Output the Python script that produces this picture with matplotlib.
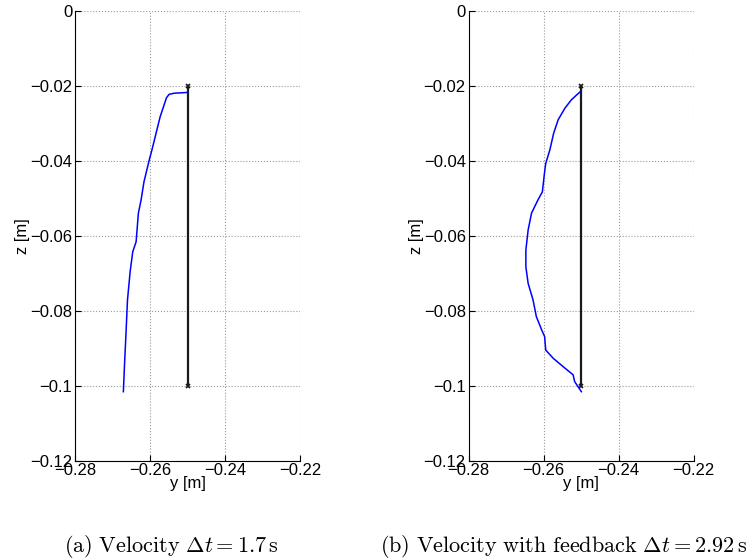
import numpy as np
import matplotlib.pyplot as plt

plt.rcParams['font.family'] = ['Liberation Sans', 'DejaVu Sans']
plt.rcParams['mathtext.fontset'] = 'cm'

# Reference (straight) path
ref_y = [-0.25, -0.25]
ref_z = [-0.02, -0.10]

# (a) Velocity
a_y = [-0.2500, -0.2535, -0.2549, -0.2556, -0.2573, -0.2595, -0.2602,
       -0.2616, -0.2624, -0.2631, -0.2637, -0.2646, -0.2653, -0.2655,
       -0.2660, -0.2664, -0.2668, -0.2671]
a_z = [-0.0218, -0.0220, -0.0223, -0.0232, -0.0283, -0.0372, -0.0398,
       -0.0456, -0.0506, -0.0540, -0.0616, -0.0643, -0.0696, -0.0718,
       -0.0771, -0.0860, -0.0945, -0.1016]

# (b) Velocity with feedback
b_y = [-0.2502, -0.2512, -0.2526, -0.2543, -0.2561, -0.2573, -0.2583,
       -0.2594, -0.2598, -0.2603, -0.2615, -0.2632, -0.2641, -0.2647,
       -0.2647, -0.2641, -0.2628, -0.2619, -0.2605, -0.2597, -0.2594,
       -0.2574, -0.2543, -0.2521, -0.2517, -0.2499]
b_z = [-0.0216, -0.0225, -0.0238, -0.0260, -0.0291, -0.0327, -0.0371,
       -0.0407, -0.0438, -0.0483, -0.0505, -0.0540, -0.0585, -0.0638,
       -0.0683, -0.0727, -0.0771, -0.0816, -0.0851, -0.0869, -0.0905,
       -0.0927, -0.0953, -0.0971, -0.0989, -0.1016]

xticks = [-0.28, -0.26, -0.24, -0.22]
yticks = [0, -0.02, -0.04, -0.06, -0.08, -0.1, -0.12]

captions = [r"$\mathrm{(a)\ Velocity\ }\Delta t = 1.7\,\mathrm{s}$",
            r"$\mathrm{(b)\ Velocity\ with\ feedback\ }\Delta t = 2.92\,\mathrm{s}$"]


def fmt(v):
    return ('%g' % v).replace('-', '\u2212')


fig = plt.figure(figsize=(7.55, 5.6), dpi=100)
ax1 = fig.add_axes([75 / 755, 99.3 / 560, 225 / 755, 450 / 560])
ax2 = fig.add_axes([468.5 / 755, 99.3 / 560, 225 / 755, 450 / 560])

for ax, ys, zs in [(ax1, a_y, a_z), (ax2, b_y, b_z)]:
    ax.plot(ref_y, ref_z, color='#1a1a1a', lw=1.6, marker='x', ms=3, mew=1.2)
    ax.plot(ys, zs, color='#0000ff', lw=1.1)
    ax.set_xlim(-0.28, -0.22)
    ax.set_ylim(-0.12, 0)
    ax.set_xticks(xticks)
    ax.set_yticks(yticks)
    ax.set_xticklabels([fmt(v) for v in xticks])
    ax.set_yticklabels([fmt(v) for v in yticks])
    ax.grid(True, linestyle=':', color='#999999', lw=0.8)
    ax.spines['top'].set_visible(False)
    ax.spines['right'].set_visible(False)
    ax.tick_params(direction='in', length=4, labelsize=12, pad=2)
    ax.set_xlabel('y [m]', fontsize=12, labelpad=-2)
    ax.set_ylabel('z [m]', fontsize=12, labelpad=0)

fig.text(171 / 755, 1 - 546 / 560, captions[0], fontsize=16, ha='center', va='center')
fig.text(564 / 755, 1 - 546 / 560, captions[1], fontsize=16, ha='center', va='center')

fig.savefig('out.png', dpi=100)
